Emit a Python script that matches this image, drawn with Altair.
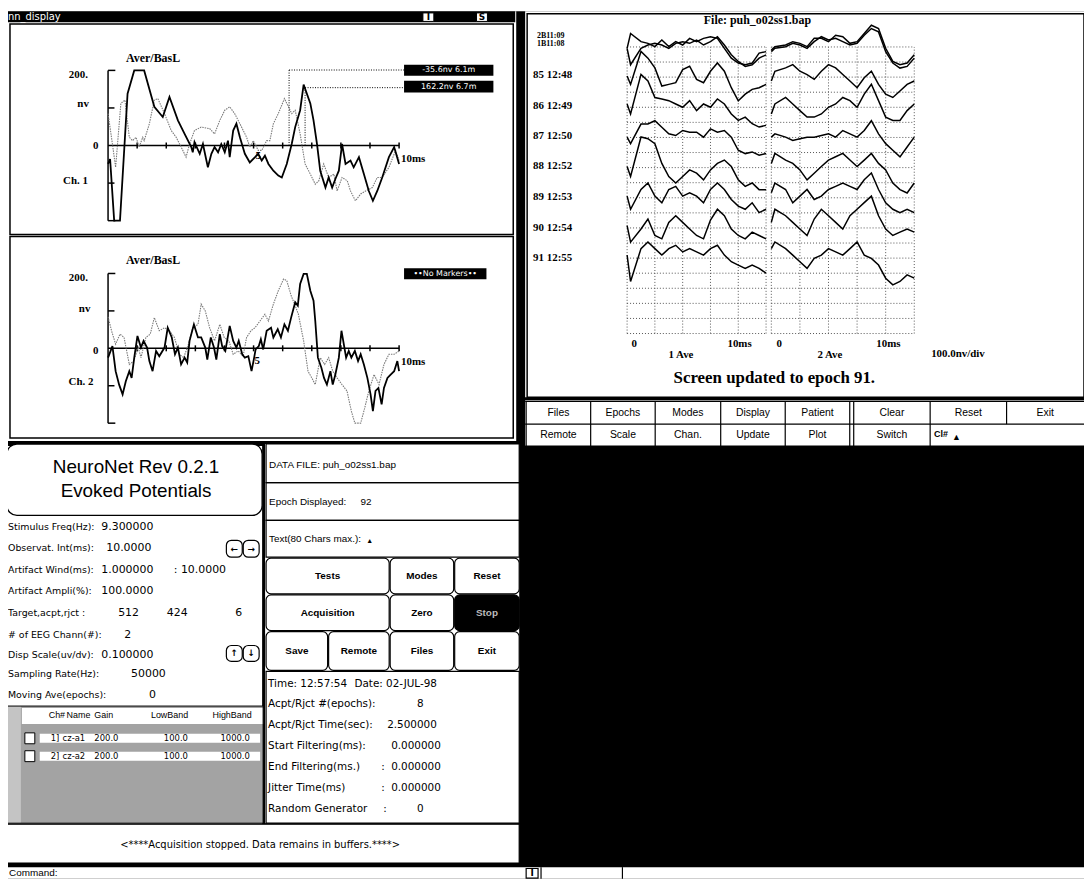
import altair as alt
import pandas as pd

# ---------------- waveform data: Ch. 1 / Ch. 2 averages (ms, nV) ----------------
CH1_BLACK_T = [0, 0.07, 0.21, 0.41, 0.67, 0.90, 1.24, 1.59, 1.88, 2.11, 2.40, 2.63, 2.86, 2.91, 2.97,
               3.15, 3.26, 3.38, 3.43, 3.55, 3.66, 3.78, 3.89, 4.01, 4.12, 4.18, 4.30, 4.41, 4.53, 4.70,
               4.87, 5.05, 5.16, 5.28, 5.39, 5.51, 5.68, 5.85, 5.97, 6.14, 6.31, 6.43, 6.60, 6.72, 6.95,
               7.06, 7.18, 7.29, 7.47, 7.58, 7.70, 7.81, 7.93, 8.04, 8.16, 8.33, 8.44, 8.62, 8.79, 8.96,
               9.10, 9.25, 9.42, 9.65, 9.83, 10]
CH1_BLACK_V = [-49, -36, -200, -200, 138, 200, 200, 103, 76, 129, 67, 31, -4, -18, 9,
               -22, 4, -40, -58, -22, -4, -18, 4, -18, 13, -31, 40, 58, 22, -22,
               -45, -31, -22, -40, -27, -49, -67, -80, -85, -49, 4, 49, 94, 162, 112,
               67, 4, -67, -112, -85, -112, -89, -67, 4, -49, -40, -58, -31, -76, -121,
               -147, -121, -85, -31, -4, -49]
CH1_GRAY_T = [0, 0.15, 0.26, 0.44, 0.58, 0.73, 0.84, 0.96, 1.07, 1.19, 1.24, 1.42, 1.59, 1.71, 1.94,
              2.17, 2.34, 2.57, 2.68, 2.80, 2.97, 3.20, 3.49, 3.66, 3.84, 4.01, 4.18, 4.35, 4.53, 4.76,
              4.87, 4.99, 5.16, 5.28, 5.45, 5.56, 5.68, 5.85, 6.06, 6.20, 6.31, 6.43, 6.60, 6.77, 6.95,
              7.12, 7.24, 7.41, 7.58, 7.76, 7.87, 8.04, 8.22, 8.33, 8.50, 8.68, 8.85, 9.08, 9.25, 9.42,
              9.65, 9.88, 10]
CH1_GRAY_V = [85, 4, -58, 112, 121, 22, 13, 22, -4, 22, 13, 58, 121, 125, 85,
              40, 22, -13, -31, 4, 40, 49, 45, 31, 67, 94, 103, 85, 58, 22,
              -4, 13, -13, -13, 13, 13, 58, 85, 125, 103, 85, 94, 31, -49, -76,
              -103, -94, -49, -85, -76, -121, -85, -94, -121, -147, -129, -121, -112, -85, -85,
              -58, -13, -40]
CH2_BLACK_T = [0, 0.15, 0.26, 0.38, 0.50, 0.61, 0.73, 0.81, 0.90, 1.01,
               1.13, 1.22, 1.34, 1.42, 1.53, 1.65, 1.76, 1.94, 2.05, 2.19,
               2.30, 2.40, 2.51, 2.63, 2.72, 2.80, 2.95, 3.09, 3.20, 3.34,
               3.41, 3.53, 3.64, 3.72, 3.84, 3.92, 4.03, 4.18, 4.30, 4.41,
               4.49, 4.61, 4.70, 4.82, 4.93, 5.02, 5.07, 5.18, 5.25, 5.33,
               5.45, 5.60, 5.68, 5.83, 5.94, 6.06, 6.18, 6.29, 6.43, 6.52,
               6.60, 6.72, 6.83, 6.95, 7.06, 7.12, 7.21, 7.33, 7.42, 7.52,
               7.64, 7.72, 7.81, 7.93, 8.02, 8.10, 8.18, 8.27, 8.36, 8.48,
               8.59, 8.68, 8.79, 8.91, 9.02, 9.10, 9.19, 9.29, 9.40, 9.48,
               9.60, 9.71, 9.83, 9.94, 10]
CH2_BLACK_V = [-25, 6, -61, -97, -123, -88, -61, -79, -25, 33,
               2, 20, 2, -34, -61, -7, -21, 2, 55, 29,
               -16, 2, -43, -25, -38, 20, 64, 29, 29, 2,
               -30, 29, 2, -30, 38, 6, -7, 60, 20, 2,
               20, -16, -25, -21, -61, -25, -3, 6, 24, -3,
               47, 55, 29, 51, 29, 64, 47, 82, 123, 114,
               172, 199, 199, 154, 127, 73, -25, -52, -79, -97,
               -61, -97, -70, -25, 47, 11, -25, -7, -25, -7,
               -34, -16, -43, -79, -123, -168, -114, -106, -150, -106,
               -79, -70, -61, -34, -61]
CH2_GRAY_T = [0, 0.12, 0.26, 0.41, 0.55, 0.73, 0.88, 1.04, 1.13, 1.30,
              1.45, 1.59, 1.76, 1.94, 2.11, 2.28, 2.45, 2.60, 2.76, 2.91,
              3.09, 3.20, 3.34, 3.49, 3.66, 3.84, 3.99, 4.15, 4.30, 4.47,
              4.64, 4.76, 4.91, 5.05, 5.22, 5.39, 5.51, 5.68, 5.85, 6.03,
              6.14, 6.29, 6.41, 6.54, 6.72, 6.87, 7.00, 7.12, 7.29, 7.44,
              7.58, 7.72, 7.87, 8.04, 8.21, 8.36, 8.48, 8.68, 8.82, 8.96,
              9.14, 9.31, 9.48, 9.65, 9.83, 10]
CH2_GRAY_V = [84, 47, 11, 38, 29, -43, -34, 2, -25, 29,
              38, 82, 47, 55, 47, 29, -16, -25, 11, 55,
              64, 118, 100, 55, 20, 64, 29, 20, -16, -7,
              -21, 29, 47, 55, 73, 91, 73, 118, 154, 185,
              181, 141, 118, 91, 20, -61, -79, -97, -25, -43,
              -25, -61, -79, -97, -114, -168, -200, -200, -159, -114,
              -70, -97, -43, -16, -16, -7]

# ---------------- epoch traces (nV; 2nd sample is the stimulus artifact) ----------------
EPOCH_T = [0.0, 0.25, 1.0, 1.5, 2.0, 2.5, 3.0, 3.5, 4.0, 4.5, 5.0,
           5.5, 6.0, 6.5, 7.0, 7.5, 8.0, 8.5, 9.0, 9.5, 10.0]
EPOCH_LABELS = ["2B11:09", "1B11:08", "85 12:48", "86 12:49", "87 12:50",
                "88 12:52", "89 12:53", "90 12:54", "91 12:55"]
EPOCH_ROWS = [0, 0, 1, 2, 3, 4, 5, 6, 7]

AVE1_2B = [-9, 89, 35, 24, 2, 46, 2, 35, 13, 57, 35, 57, 68, 57, -9, -74, -107, -118, -107, -41, -31]
AVE1_1B = [-9, -118, -9, 13, 24, 13, -9, 24, 35, 24, 46, 13, 35, 68, 13, -52, -96, -129, -118, -74, -52]
AVE1_85 = [7, -48, 170, 126, 61, -59, -48, -37, 50, 72, -15, -37, 39, 94, 39, -70, -157, -113, -81, -70, -48]
AVE1_86 = [22, -44, 218, 174, 65, 55, 44, 22, 0, 44, -22, 22, 0, 55, 22, -44, -87, -65, -109, -131, -120]
AVE1_87 = [2, -41, 89, 89, 111, 68, 24, 13, 46, 35, 35, 2, 57, 35, 46, 2, -85, -107, -96, -118, -107]
AVE1_88 = [7, -59, 203, 192, 159, 28, -59, -102, -59, -15, -37, -81, -15, 28, 50, 7, -81, -124, -102, -146, -146]
AVE1_89 = [11, -76, 55, 98, 11, -33, 55, 76, 11, 33, 11, -33, 55, 98, 55, -11, -55, -76, -33, -98, -76]
AVE1_90 = [15, -94, -7, 59, -50, -72, 37, 81, 37, -7, -50, -72, 52, 124, 81, -7, -50, -72, -28, -50, -72]
AVE1_91 = [20, -155, 63, 107, 63, 20, 63, 85, 41, 63, 41, 20, 63, 85, 20, -24, -46, -68, -46, -68, -100]

AVE2_2B = [-20, 2, 13, 35, 24, 2, 57, 57, 35, 78, 68, 24, 35, 89, 144, 122, -9, -96, -118, -107, -52]
AVE2_1B = [-31, -9, 2, 24, 13, -9, 35, 68, 46, 57, 35, 13, 24, 78, 122, 100, -31, -107, -140, -129, -74]
AVE2_85 = [-26, 39, 61, 83, 39, 17, -15, 39, 83, 61, 17, -26, -70, -4, 39, -48, -113, -135, -92, -48, -26]
AVE2_86 = [-44, 22, 65, 22, -22, -65, -65, -44, 0, 22, 65, 44, 0, 87, 153, 44, -65, -87, -87, -22, 22]
AVE2_87 = [2, 24, 2, -20, -9, 2, 2, 13, 24, 2, 46, 24, 2, 46, 111, 24, -41, -85, -129, -63, 2]
AVE2_88 = [28, 94, 50, 28, -15, -81, -37, 7, 50, 72, 94, 50, 7, 50, 94, 28, -15, -102, -146, -168, -102]
AVE2_89 = [33, 98, 55, -33, 11, 55, -11, 11, 55, 76, 98, 76, 55, 120, 164, 55, -33, -76, -98, -76, -98]
AVE2_90 = [37, 124, 81, 37, -7, -50, 59, 124, 81, 37, -7, 81, 124, 168, 211, 81, -7, -50, -28, -7, -28]
AVE2_91 = [63, 107, 63, 20, -24, -68, -2, 20, 63, 41, 20, 63, 107, 20, -2, -46, -133, -177, -155, -111, -133]

# ---------------- text content ----------------
PARAM_LABELS = ["Stimulus Freq(Hz):", "Observat. Int(ms):", "Artifact Wind(ms):", "Artifact Ampli(%):",
                "Target,acpt,rjct :", "# of EEG Chann(#):", "Disp Scale(uv/dv):", "Sampling Rate(Hz):",
                "Moving Ave(epochs):"]
PARAM_VALUES = [["9.300000"], ["10.0000"], ["1.000000", ":  10.0000"], ["100.0000"],
                ["512", "424", "6"], ["2"], ["0.100000"], ["50000"], ["0"]]
INFO_LABELS = ["Time: 12:57:54", "Acpt/Rjct #(epochs):", "Acpt/Rjct Time(sec):", "Start Filtering(ms):",
               "End Filtering(ms.)", "Jitter Time(ms)", "Random Generator"]
INFO_VALUES = [["Date: 02-JUL-98"], ["8"], ["2.500000"], ["0.000000"], [":", "0.000000"],
               [":", "0.000000"], [":", "0"]]
TOP_BUTTONS_1 = ["Files", "Epochs", "Modes", "Display", "Patient", "Clear", "Reset", "Exit"]
TOP_BUTTONS_2 = ["Remote", "Scale", "Chan.", "Update", "Plot", "Switch"]
MID_BUTTONS = ["Tests", "Modes", "Reset", "Acquisition", "Zero", "Stop", "Save", "Remote", "Files", "Exit"]
TABLE_HEAD = ["Ch#", "Name", "Gain", "LowBand", "HighBand"]
TABLE_ROWS = [["1]", "cz-a1", "200.0", "100.0", "1000.0"], ["2]", "cz-a2", "200.0", "100.0", "1000.0"]]

# ---------------- layout (screen pixel space of the 1092x891 display) ----------------
W, H = 1084, 874
YD = [0, 56, 862, 891]
YR = [0, 48, 854, H]
XS = alt.Scale(domain=[8, 1092], range=[0, W], nice=False, zero=False)
YS = alt.Scale(domain=YD, range=YR, nice=False, zero=False)


def px(x):
    return x - 8


def py(y):
    for d0, d1, r0, r1 in zip(YD[:-1], YD[1:], YR[:-1], YR[1:]):
        if y <= d1:
            return r0 + (y - d0) * (r1 - r0) / (d1 - d0)
    return YR[-1]


CH1_X = alt.Scale(domain=[0, 10], range=[px(108.8), px(402)], nice=False, zero=False)
CH1_Y = alt.Scale(domain=[-200, 200], range=[py(219), py(67.6)], nice=False, zero=False)
CH2_Y = alt.Scale(domain=[-200, 200], range=[py(423), py(272.2)], nice=False, zero=False)
EP1_X = alt.Scale(domain=[0, 10], range=[px(631.7), px(771.7)], nice=False, zero=False)
EP2_X = alt.Scale(domain=[0, 10], range=[px(777), px(921)], nice=False, zero=False)
EP_Y = alt.Scale(domain=[-1900, 0], range=[py(332.7), py(42)], nice=False, zero=False)

SERIF = "Liberation Serif"
SANS = "Liberation Sans"
DJV = "DejaVu Sans"


def fill_layer(rows, **mark):
    df = pd.DataFrame(rows, columns=["x", "x2", "y", "y2", "c"])
    return alt.Chart(df).mark_rect(**mark).encode(
        x=alt.X("x:Q", scale=XS, axis=None), x2="x2:Q",
        y=alt.Y("y:Q", scale=YS, axis=None), y2="y2:Q",
        color=alt.Color("c:N", scale=None))


def frame_layer(rows):
    df = pd.DataFrame(rows, columns=["x", "x2", "y", "y2", "sw"])
    return alt.Chart(df).mark_rect(fillOpacity=0, stroke="black").encode(
        x=alt.X("x:Q", scale=XS, axis=None), x2="x2:Q",
        y=alt.Y("y:Q", scale=YS, axis=None), y2="y2:Q",
        strokeWidth=alt.StrokeWidth("sw:Q", scale=None))


def rule_layer(rows, xs, ys, **mark):
    df = pd.DataFrame(rows, columns=["x", "y", "x2", "y2"])
    return alt.Chart(df).mark_rule(**mark).encode(
        x=alt.X("x:Q", scale=xs, axis=None), x2="x2:Q",
        y=alt.Y("y:Q", scale=ys, axis=None), y2="y2:Q")


def text_layer(rows, font, size, weight="normal", align="left"):
    df = pd.DataFrame(rows, columns=["s", "x", "y", "c"])
    return alt.Chart(df).mark_text(font=font, fontSize=size, fontWeight=weight,
                                   align=align, baseline="middle").encode(
        x=alt.X("x:Q", scale=XS, axis=None), y=alt.Y("y:Q", scale=YS, axis=None),
        text="s:N", color=alt.Color("c:N", scale=None))


def wave_layer(t, v, xs, ys, **mark):
    df = pd.DataFrame({"t": t, "v": v})
    return alt.Chart(df).mark_line(**mark).encode(
        x=alt.X("t:Q", scale=xs, axis=None), y=alt.Y("v:Q", scale=ys, axis=None),
        order="t:Q")


def epoch_layer(traces, xs):
    recs = []
    for name, row, vals in zip(EPOCH_LABELS, EPOCH_ROWS, traces):
        for t, v in zip(EPOCH_T, vals):
            recs.append({"trace": name, "row": row, "t": t, "v": v})
    df = pd.DataFrame(recs)
    return alt.Chart(df).transform_calculate(level="datum.v - 200 * datum.row").mark_line(
        color="black", strokeWidth=1.5).encode(
        x=alt.X("t:Q", scale=xs, axis=None), y=alt.Y("level:Q", scale=EP_Y, axis=None),
        detail="trace:N", order="t:Q")


layers = []

# ---- background panels ----
FILLS = [
    (0, 1092, 0, 891, "black"),
    (0, 520, 0, 441, "white"),
    (3, 519, 0, 13, "black"),
    (426, 437, 2, 12, "white"),
    (480, 491, 2, 12, "white"),
    (5, 8, 13, 441, "black"),
    (407, 497, 62, 73, "black"),
    (407, 497, 78, 90, "black"),
    (407, 490, 267, 278, "black"),
    (529, 1092, 0, 397, "white"),
    (529, 1092, 400, 446, "white"),
    (4, 264, 446, 827, "white"),
    (4, 7, 446, 827, "black"),
    (7, 265, 708, 826, "#a3a3a3"),
    (7, 21, 708, 826, "#c4c4c4"),
    (22, 265, 710, 726, "white"),
    (40, 262, 736, 745, "white"),
    (40, 262, 754, 763, "white"),
    (25, 35, 735, 746, "white"),
    (25, 35, 753, 764, "white"),
    (267, 523, 444, 826, "white"),
    (4, 523, 827, 868, "white"),
    (0, 1092, 874, 891, "white"),
]
layers.append(fill_layer(FILLS))

ROUND_BIG = [(7, 264, 444, 516, "white")]
layers.append(fill_layer(ROUND_BIG, cornerRadius=10, stroke="black", strokeWidth=1.3))
ROUND_BTN = [
    (228, 244, 541, 558, "white"), (245, 261, 541, 558, "white"),
    (228, 244, 647, 663, "white"), (245, 261, 647, 663, "white"),
    (268, 392, 559, 595, "white"), (393, 457, 559, 595, "white"), (458, 523, 559, 595, "white"),
    (268, 392, 596, 632, "white"), (393, 457, 596, 632, "white"), (458, 523, 596, 632, "black"),
    (268, 330, 633, 672, "white"), (331, 392, 633, 672, "white"), (393, 457, 633, 672, "white"),
    (458, 523, 633, 672, "white"),
]
layers.append(fill_layer(ROUND_BTN, cornerRadius=5, stroke="black", strokeWidth=1.2))

FRAMES = [
    (426, 437, 2, 12, 1), (480, 491, 2, 12, 1),
    (10, 517, 15, 233, 1.5), (10, 517, 235, 438, 1.5),
    (531, 1092, 3, 397, 1.5),
    (25, 35, 735, 746, 1), (25, 35, 753, 764, 1),
    (268, 523, 444, 483, 1.2), (268, 523, 483, 521, 1.2), (268, 523, 521, 558, 1.2),
    (268, 523, 673, 826, 1.2),
    (7, 523, 827, 868, 1.2),
    (7, 265, 708, 826, 1),
    (530, 542, 876, 890, 1.2),
]
layers.append(frame_layer(FRAMES))

SOLID = [
    (529, 401, 1092, 401), (529, 424, 1092, 424), (529, 446, 1092, 446),
    (530, 401, 530, 446), (595, 401, 595, 446), (660, 401, 660, 446), (726, 401, 726, 446),
    (791, 401, 791, 446), (856, 401, 856, 446), (860, 401, 860, 446), (937, 401, 937, 446),
    (1014, 401, 1014, 424),
    (545, 874, 545, 891), (627, 874, 627, 891),
]
layers.append(rule_layer(SOLID, XS, YS, color="black", strokeWidth=1.2))

# ---- epoch grids ----
H_GRID = [(0, -100 * k, 10, -100 * k) for k in range(20)]
V_GRID = [(t, -1900, t, 0) for t in [0, 2, 4, 6, 8, 10]]
for xs in (EP1_X, EP2_X):
    layers.append(rule_layer(H_GRID + V_GRID, xs, EP_Y, color="#555555", strokeWidth=1,
                             strokeDash=[1, 2]))

# ---- Ch axes ----
AXIS = [(0, 0, 10, 0), (0, -200, 0, 200), (0, 200, 0.25, 200), (0, -200, 0.25, -200),
        (0, 100, 0.22, 100), (0, -100, 0.22, -100)] + [(k, -8, k, 8) for k in range(1, 11)]
layers.append(rule_layer(AXIS, CH1_X, CH1_Y, color="black", strokeWidth=1.5))
layers.append(rule_layer(AXIS, CH1_X, CH2_Y, color="black", strokeWidth=1.5))

# ---- waveforms ----
layers.append(wave_layer(CH1_GRAY_T, CH1_GRAY_V, CH1_X, CH1_Y, color="#7a7a7a", strokeWidth=1.1,
                         strokeDash=[1.5, 1]))
layers.append(wave_layer(CH1_BLACK_T, CH1_BLACK_V, CH1_X, CH1_Y, color="black", strokeWidth=1.8))
layers.append(wave_layer(CH2_GRAY_T, CH2_GRAY_V, CH1_X, CH2_Y, color="#7a7a7a", strokeWidth=1.1,
                         strokeDash=[1.5, 1]))
layers.append(wave_layer(CH2_BLACK_T, CH2_BLACK_V, CH1_X, CH2_Y, color="black", strokeWidth=1.8))
layers.append(epoch_layer([AVE1_2B, AVE1_1B, AVE1_85, AVE1_86, AVE1_87, AVE1_88, AVE1_89,
                           AVE1_90, AVE1_91], EP1_X))
layers.append(epoch_layer([AVE2_2B, AVE2_1B, AVE2_85, AVE2_86, AVE2_87, AVE2_88, AVE2_89,
                           AVE2_90, AVE2_91], EP2_X))

# ---- marker connectors (Ch. 1) ----
MARKS = [(6.22, 0, 6.22, 201), (6.22, 201, 10.17, 201), (6.77, 0, 6.77, 154), (6.77, 154, 10.17, 154)]
layers.append(rule_layer(MARKS, CH1_X, CH1_Y, color="black", strokeWidth=1, strokeDash=[1, 1.5]))

# ---- texts ----
K, Wt = "black", "white"
layers.append(text_layer([("nn_display", 8, 6.5, Wt)], DJV, 10))
layers.append(text_layer([("I", 431.5, 7, K), ("S", 485.5, 7, K), ("I", 536, 883, K)],
                         DJV, 9, "bold", "center"))
layers.append(text_layer([("-35.6nv   6.1m", 452, 67.5, Wt), ("162.2nv   6.7m", 452, 84, Wt),
                          ("\u2022\u2022No Markers\u2022\u2022", 448.5, 272.5, Wt)], DJV, 8, "normal", "center"))

layers.append(text_layer([("Aver/BasL", 127, 55, K), ("Aver/BasL", 127, 259, K)], SERIF, 12, "bold"))
layers.append(text_layer([("File: puh_o02ss1.bap", 763, 10, K)], SERIF, 12, "bold", "center"))
layers.append(text_layer([("200.", 88.5, 72.5, K), ("nv", 89.5, 101, K), ("0", 99, 144, K),
                          ("Ch. 1", 88.5, 179, K),
                          ("200.", 88.5, 277, K), ("nv", 91, 308, K), ("0", 99, 350, K),
                          ("Ch. 2", 94, 382, K)], SERIF, 11, "bold", "right"))
EPOCH_LABEL_Y = [None, None, 72, 103, 134, 164, 195, 226, 257]
left_serif = [("10ms", 404, 157, K), ("10ms", 404, 361, K), ("100.0nv/div", 938, 353, K)]
left_serif += [(lab, 537, yy, K) for lab, yy in zip(EPOCH_LABELS, EPOCH_LABEL_Y) if yy is not None]
layers.append(text_layer(left_serif, SERIF, 11, "bold"))
layers.append(text_layer([(EPOCH_LABELS[0], 541, 29.5, K), (EPOCH_LABELS[1], 541, 38.5, K)],
                         SERIF, 8, "bold"))
layers.append(text_layer([("5", 260, 154, K), ("5", 259, 360, K),
                          ("0", 639, 343, K), ("10ms", 745, 343, K), ("1 Ave", 686, 354, K),
                          ("0", 785, 343, K), ("10ms", 895, 343, K), ("2 Ave", 836, 354, K)],
                         SERIF, 11, "bold", "center"))
layers.append(text_layer([("Screen updated to epoch  91.", 780, 378, K)], SERIF, 17, "bold", "center"))

# top-right buttons
B1_X = [562.5, 627.5, 693, 758.5, 823.5, 898.5, 975.5, 1053]
B2_X = [562.5, 627.5, 693, 758.5, 823.5, 898.5]
btn = [(s, x, 413, K) for s, x in zip(TOP_BUTTONS_1, B1_X)]
btn += [(s, x, 435, K) for s, x in zip(TOP_BUTTONS_2, B2_X)]
layers.append(text_layer(btn, SANS, 10.5, "normal", "center"))
layers.append(text_layer([("Cl#", 941, 434, K), ("\u25b2", 959, 437, K)], SANS, 9, "bold"))

# NeuroNet title
layers.append(text_layer([("NeuroNet Rev 0.2.1", 137, 467, K), ("Evoked Potentials", 137, 491, K)],
                         SANS, 19, "normal", "center"))

# parameter list
PARAM_Y = [528, 549, 571, 592, 614, 636, 657, 676, 697]
PARAM_VX = [[102], [107], [102, 175], [102], [119, 168, 237], [125], [102], [132], [150]]
layers.append(text_layer([(s, 8, y, K) for s, y in zip(PARAM_LABELS, PARAM_Y)], DJV, 9.5))
pv = []
for vals, xs_, y in zip(PARAM_VALUES, PARAM_VX, PARAM_Y):
    pv += [(s, x, y, K) for s, x in zip(vals, xs_)]
layers.append(text_layer(pv, DJV, 11))
layers.append(text_layer([("\u2190", 236, 549.5, K), ("\u2192", 253, 549.5, K),
                          ("\u2191", 236, 655, K), ("\u2193", 253, 655, K)], DJV, 9, "bold", "center"))

# channel table
HEAD_X = [49, 67, 95, 152, 214]
ROW_X = [51, 63, 95, 165, 222]
layers.append(text_layer([(s, x, 717, K) for s, x in zip(TABLE_HEAD, HEAD_X)], SANS, 9))
tr = []
for row, y in zip(TABLE_ROWS, [740, 758]):
    tr += [(s, x, y, K) for s, x in zip(row, ROW_X)]
layers.append(text_layer(tr, DJV, 8.5))

# middle boxes
layers.append(text_layer([("DATA FILE: puh_o02ss1.bap", 271, 465, K), ("Epoch Displayed:", 271, 502, K),
                          ("92", 363, 502, K), ("Text(80 Chars max.):", 271, 540, K)], SANS, 10))
layers.append(text_layer([("\u25b2", 369, 542, K)], SANS, 7))
MB_X = [330, 425, 490.5, 330, 425, 490.5, 299, 361.5, 425, 490.5]
MB_Y = [577, 577, 577, 614, 614, 614, 653, 653, 653, 653]
MB_C = [K, K, K, K, K, "#bbbbbb", K, K, K, K]
layers.append(text_layer([(s, x, y, c) for s, x, y, c in zip(MID_BUTTONS, MB_X, MB_Y, MB_C)],
                         SANS, 10, "bold", "center"))

# info panel
INFO_Y = [686, 706, 727, 748, 769, 791, 812]
INFO_VX = [[357], [420], [390], [394], [384, 394], [384, 394], [386, 420]]
layers.append(text_layer([(s, 270, y, K) for s, y in zip(INFO_LABELS, INFO_Y)], DJV, 10.5))
iv = []
for vals, xs_, y in zip(INFO_VALUES, INFO_VX, INFO_Y):
    iv += [(s, x, y, K) for s, x in zip(vals, xs_)]
layers.append(text_layer(iv, DJV, 10.5))

# status line / command line
layers.append(text_layer([("<****Acquisition stopped. Data remains in buffers.****>", 262, 848, K)],
                         DJV, 10, "normal", "center"))
layers.append(text_layer([("Command:", 9, 882, K)], SANS, 10))

chart = alt.layer(*layers).resolve_scale(
    x="independent", y="independent", color="independent", strokeWidth="independent"
).properties(
    width=W, height=H, padding=0, autosize=alt.AutoSizeParams(type="none")
).configure_view(strokeWidth=0)

chart.save("out.html", embed_options={"renderer": "svg", "actions": False})
